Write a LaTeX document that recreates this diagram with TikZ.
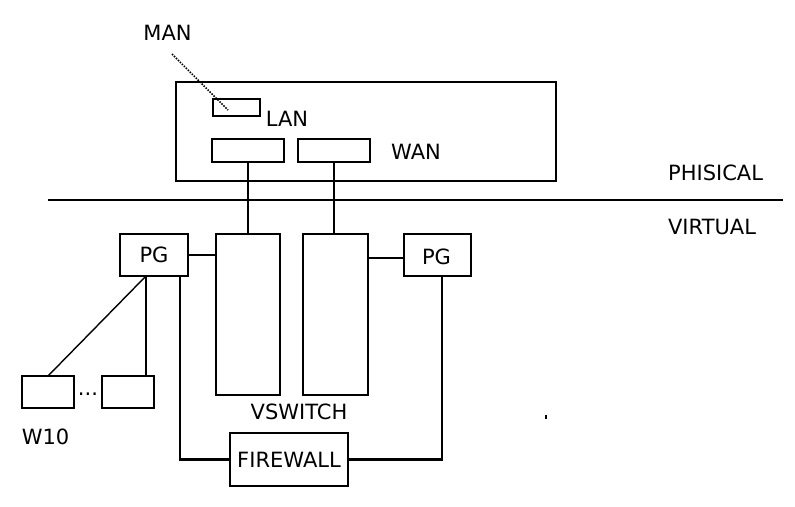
\documentclass[tikz,border=0pt]{standalone}
\usepackage{fontspec}
\setmainfont{DejaVu Sans}
\begin{document}
\begin{tikzpicture}[x=1pt,y=-1pt,line width=2.2pt,
  box/.style={draw,anchor=north west,inner sep=0pt,outer sep=0pt},
  lbl/.style={inner sep=0pt,font=\fontsize{21}{25}\selectfont}]
\useasboundingbox (0,0) rectangle (795,506);
% physical part
\node[box,minimum width=380,minimum height=99] (host) at (176,82) {};
\node[box,minimum width=47,minimum height=17] (lan) at (213,99) {};
\node[box,minimum width=72,minimum height=23] (nic1) at (212,139) {};
\node[box,minimum width=72,minimum height=23] (nic2) at (298,139) {};
\node[lbl] (man) at (167.5,33) {MAN};
\node[lbl] (lant) at (287,119) {LAN};
\node[lbl] (want) at (416,152) {WAN};
\coordinate (manA) at (172,54);
\coordinate (manB) at (228,110);
\draw[line width=1.5pt,dash pattern=on 1.5pt off 1.3pt] (manA) -- (manB);
% divider
\coordinate (divL) at (48,200);
\coordinate (divR) at (783,200);
\draw (divL) -- (divR);
\node[lbl,anchor=west] (phys) at (667,173) {PHISICAL};
\node[lbl,anchor=west] (virt) at (667,227) {VIRTUAL};
% virtual part
\node[box,minimum width=64,minimum height=161] (vs1) at (216,234) {};
\node[box,minimum width=65,minimum height=161] (vs2) at (303,234) {};
\node[box,minimum width=68,minimum height=42] (pg1) at (120,234) {};
\node[box,minimum width=67,minimum height=42] (pg2) at (404,234) {};
\node[lbl] at (pg1.center) {PG};
\node[lbl] at ([xshift=-1,yshift=-2]pg2.center) {PG};
\node[box,minimum width=52,minimum height=32] (w1) at (22,376) {};
\node[box,minimum width=52,minimum height=32] (w2) at (102,376) {};
\node[lbl] (dots) at (88,394) {...};
\node[lbl] (w10) at (45.5,437) {W10};
\node[lbl] (vsw) at (299,412) {VSWITCH};
\node[box,minimum width=118,minimum height=53] (fw) at (230,433) {};
\node[lbl] at (fw.center) {FIREWALL};
% connectors
\draw (nic1.south) -- (nic1.south |- vs1.north);
\draw (nic2.south) -- (nic2.south |- vs2.north);
\draw (pg1.east) -- (pg1.east -| vs1.west);
\draw ([yshift=-3]vs2.east |- pg2.west) -- ([yshift=-3]pg2.west);
\coordinate (pgb) at ([xshift=-8]pg1.south);
\draw (pgb) -- (pgb |- w2.north);
\draw[line width=1.4pt] (pgb) -- (w1.north);
\draw ([xshift=26]pg1.south) |- (fw.west);
\coordinate (fwc) at (442,461);
\draw (fw.east) -- (fw.east -| fwc);
\draw (fwc) -- (fwc |- pg2.south);
\fill (545,415) rectangle (546.5,418.5);
\end{tikzpicture}
\end{document}
